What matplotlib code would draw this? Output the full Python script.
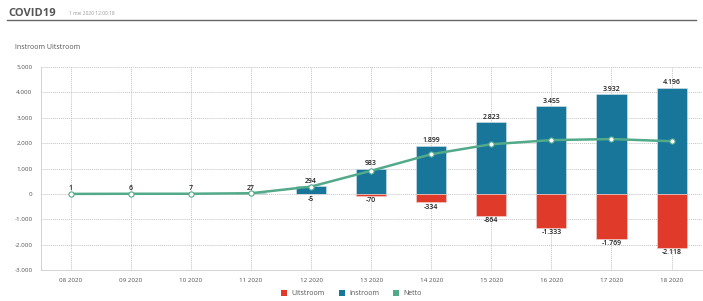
import matplotlib
matplotlib.use("Agg")
import matplotlib.pyplot as plt
from matplotlib.patches import Patch
from matplotlib.lines import Line2D

weeks = ["08 2020", "09 2020", "10 2020", "11 2020", "12 2020", "13 2020",
         "14 2020", "15 2020", "16 2020", "17 2020", "18 2020"]
instroom = [1, 6, 7, 27, 294, 983, 1899, 2823, 3455, 3932, 4196]
uitstroom = [0, 0, 0, 0, -5, -70, -334, -864, -1333, -1769, -2118]
netto = [1, 6, 7, 27, 289, 913, 1565, 1959, 2122, 2163, 2078]
yticks = [-3000, -2000, -1000, 0, 1000, 2000, 3000, 4000, 5000]

C_IN = "#17769a"
C_OUT = "#e03a2a"
C_NET = "#52aa8a"

def fmt(v):
    s = f"{abs(v):,}".replace(",", ".")
    return ("-" if v < 0 else "") + s

plt.rcParams['font.family'] = ['Open Sans', 'DejaVu Sans']

fig = plt.figure(figsize=(7.03, 3.01), dpi=100)
fig.patch.set_facecolor("white")

fig.text(0.012, 0.955, "COVID19", fontsize=8, color="#555555", fontweight="bold", va="center")
fig.text(0.098, 0.955, "1 mei 2020 12:00:18", fontsize=3.5, color="#999999", va="center")
fig.add_artist(Line2D([0.01, 0.99], [0.935, 0.935], color="#666666", lw=1.0))
fig.text(0.021, 0.843, "Instroom Uitstroom", fontsize=5, color="#555555", va="center")

ax = fig.add_axes([0.058, 0.103, 0.94, 0.674])
x = list(range(len(weeks)))
ax.bar(x, instroom, width=0.5, color=C_IN, edgecolor="#d8e6ea", linewidth=0.4, zorder=3)
ax.bar(x, uitstroom, width=0.5, color=C_OUT, edgecolor="#f0d8d4", linewidth=0.4, zorder=3)
ax.plot(x, netto, color=C_NET, lw=1.8, zorder=4)
ax.scatter(x, netto, s=14, facecolor="white", edgecolor=C_NET, linewidth=0.8, zorder=5)

for xi, v in zip(x, instroom):
    ax.text(xi, v + 60, fmt(v), ha="center", va="bottom", fontsize=5, color="#222222",
            fontweight="semibold", zorder=6)
for xi, v in zip(x, uitstroom):
    if v != 0:
        ax.text(xi, v - 60, fmt(v), ha="center", va="top", fontsize=5, color="#222222",
                fontweight="semibold", zorder=6)

ax.set_xlim(-0.5, len(weeks) - 0.5)
ax.set_ylim(-3000, 5000)
ax.set_xticks(x)
ax.set_xticklabels(weeks, fontsize=4.5, color="#555555")
ax.set_yticks(yticks)
ax.set_yticklabels([fmt(t) for t in yticks], fontsize=4.5, color="#555555")
ax.tick_params(length=0, pad=6)
ax.grid(True, color="#c4c4c4", linestyle=(0, (1, 1)), lw=0.7, zorder=0)
for s in ["top", "right"]:
    ax.spines[s].set_visible(False)
for s in ["left", "bottom"]:
    ax.spines[s].set_color("#cccccc")
    ax.spines[s].set_linewidth(0.6)

handles = [Patch(facecolor=C_OUT, label="Uitstroom"),
           Patch(facecolor=C_IN, label="Instroom"),
           Patch(facecolor=C_NET, label="Netto")]
fig.legend(handles=handles, loc="center", bbox_to_anchor=(0.5, 0.025), ncol=3,
           frameon=False, fontsize=5, handlelength=0.9, handleheight=0.9,
           columnspacing=2.0, handletextpad=0.6, labelcolor="#555555")

fig.savefig("out.png", dpi=100, facecolor="white")
